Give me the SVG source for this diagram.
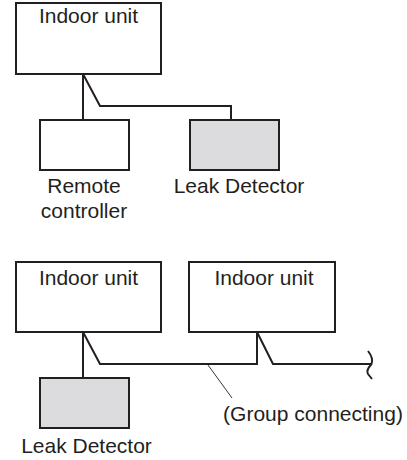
<svg xmlns="http://www.w3.org/2000/svg" width="407" height="460" viewBox="0 0 407 460">
<style>
.box{fill:#fff;stroke:#231f20;stroke-width:2}
.det{fill:#dcdcde;stroke:#231f20;stroke-width:2}
.ln{fill:none;stroke:#231f20;stroke-width:2}
.thin{fill:none;stroke:#231f20;stroke-width:0.9}
text{font-family:"Liberation Sans",Arial,sans-serif;font-size:21px;fill:#231f20;text-anchor:middle}
</style>
<rect width="407" height="460" fill="#fff"/>
<g id="connectors">
<path class="ln" d="M83,74 V120"/>
<path class="ln" d="M83,74 L100,106 H231 V120"/>
<path class="ln" d="M83,332 V378"/>
<path class="ln" d="M83,332 L100,364 H257 V332"/>
<path class="ln" d="M257,332 L273,364 H371.5"/>
<path class="ln" d="M368,351 C372,356 373,360 371.5,364 C368,368 366,371 368,374 L372,379"/>
<path class="thin" d="M208,365 L232,398"/>
</g>
<g id="indoor1">
<rect class="box" x="16" y="3" width="145" height="71"/>
<text x="88.5" y="23">Indoor unit</text>
</g>
<g id="remote">
<rect class="box" x="40" y="120" width="89" height="50"/>
<text x="84" y="193">Remote</text>
<text x="84" y="218">controller</text>
</g>
<g id="detector1">
<rect class="det" x="190" y="120" width="89" height="50"/>
<text x="239" y="193">Leak Detector</text>
</g>
<g id="indoor2">
<rect class="box" x="16" y="262" width="145" height="70"/>
<text x="88.5" y="285">Indoor unit</text>
</g>
<g id="indoor3">
<rect class="box" x="189" y="262" width="146" height="70"/>
<text x="264" y="285">Indoor unit</text>
</g>
<g id="detector2">
<rect class="det" x="40" y="378" width="89" height="50"/>
<text x="86.5" y="453">Leak Detector</text>
</g>
<g id="group-label">
<text x="313" y="421">(Group connecting)</text>
</g>
</svg>
